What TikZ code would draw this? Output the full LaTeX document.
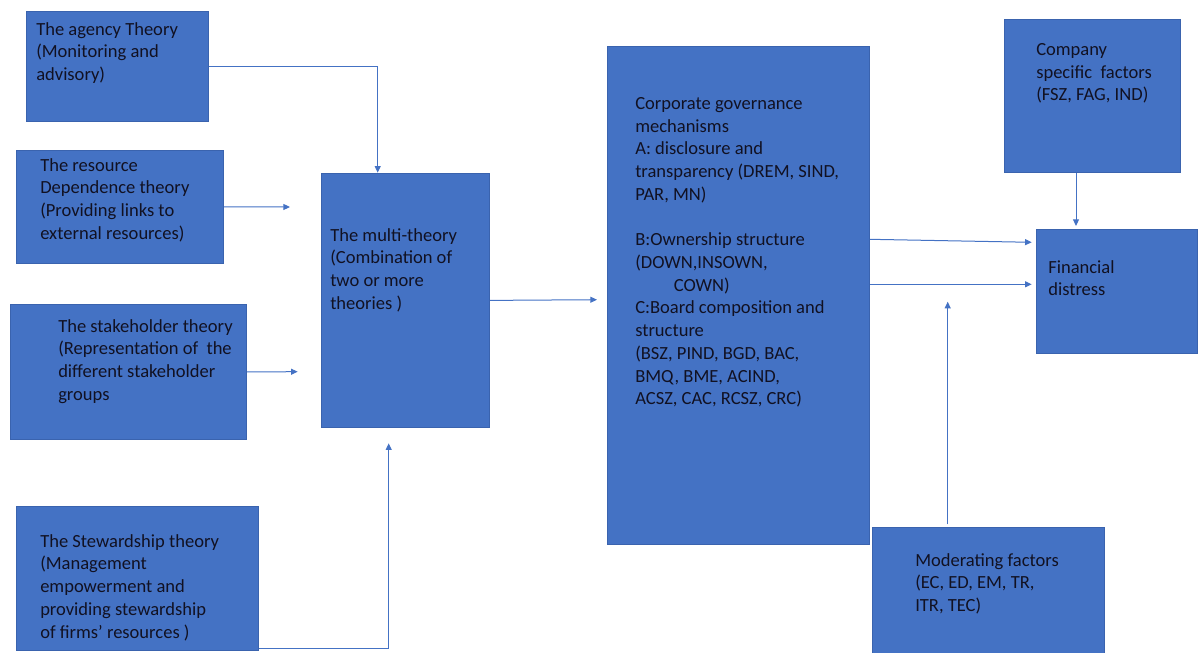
\documentclass[tikz,border=0pt]{standalone}
\usepackage{fontspec}
\setmainfont{Carlito}
\usetikzlibrary{arrows.meta}
\definecolor{boxblue}{HTML}{4472C4}
\definecolor{edgeblue}{HTML}{3A63AE}
\definecolor{lineblue}{HTML}{4472C4}
\definecolor{ink}{HTML}{111122}
\begin{document}
\begin{tikzpicture}[x=0.75pt,y=-0.75pt,
  box/.style 2 args={draw=edgeblue, fill=boxblue, line width=0.6pt, anchor=north west, inner sep=0pt,
    minimum width=#1*0.75pt, minimum height=#2*0.75pt},
  txt/.style={anchor=north west, inner sep=0pt, align=left, text=ink,
    font=\fontsize{13.9}{17.05}\selectfont},
  conn/.style={draw=lineblue, line width=0.75pt, -{Triangle[length=5pt,width=4.5pt]}}]
\clip (0,0) rectangle (1200,653);

% boxes
\node[box={182}{110}] (agency) at (26,11) {};
\node[box={207}{113}] (resource) at (16,150) {};
\node[box={236}{135}] (stake) at (10,304) {};
\node[box={242}{144}] (steward) at (16,506) {};
\node[box={168}{254}] (multi) at (321,173) {};
\node[box={262}{498}] (cg) at (607,46) {};
\node[box={176}{153}] (company) at (1004,19) {};
\node[box={161}{124}] (fin) at (1036,229) {};
\node[box={232}{140}] (mod) at (872,527) {};

% texts
\node[txt] (agencyT) at (36,22) {The agency Theory\\(Monitoring and\\advisory)};
\node[txt] (resourceT) at (40,158) {The resource\\Dependence theory\\(Providing links to\\external resources)};
\node[txt] (stakeT) at (58,319) {The stakeholder theory\\(Representation of\ \ the\\different stakeholder\\groups};
\node[txt] (stewardT) at (40,534) {The Stewardship theory\\(Management\\empowerment and\\providing stewardship\\of firms’ resources )};
\node[txt] (multiT) at (330,228) {The multi-theory\\(Combination of\\two or more\\theories )};
\node[txt] (cgT) at (635,97) {Corporate governance\\mechanisms\\A: disclosure and\\transparency (DREM, SIND,\\PAR, MN)\\[17.05pt]B:Ownership structure\\(DOWN,INSOWN,\\\hspace*{29pt}COWN)\\C:Board composition and\\structure\\(BSZ, PIND, BGD, BAC,\\BMQ, BME, ACIND,\\ACSZ, CAC, RCSZ, CRC)};
\node[txt] (companyT) at (1036,43) {Company\\specific\ \ factors\\(FSZ, FAG, IND)};
\node[txt] (finT) at (1048,260) {Financial\\distress};
\node[txt] (modT) at (915,553) {Moderating factors\\(EC, ED, EM, TR,\\ITR, TEC)};

% free connector ends
\coordinate (aEnd) at (377.7,172.7);
\coordinate (rEnd) at (290,207);
\coordinate (kEnd) at (297.7,371.7);
\coordinate (sEnd) at (388.7,443.3);
\coordinate (mEnd) at (597,299.7);
\coordinate (fA0) at (869.3,239.3);
\coordinate (fA) at (1031.7,242.3);
\coordinate (fB) at (1031.7,284.3);
\coordinate (cEnd) at (1076,226);
\coordinate (oStart) at (947.7,524.3);
\coordinate (oEnd) at (947.7,301.7);

% connectors
\draw[conn] (agency.east) -| (aEnd);
\draw[conn] (resource.east) -- (rEnd);
\draw[conn] (stake.east) -- (kEnd);
\draw[conn] ([yshift=1.7pt]steward.south east) -| (sEnd);
\draw[conn] (multi.east) -- (mEnd);
\draw[conn] (cg.east |- fA0) -- (fA);
\draw[conn] (cg.east |- fB) -- (fB);
\draw[conn] (company.south -| cEnd) -- (cEnd);
\draw[conn] (oStart) -- (oEnd);
\end{tikzpicture}
\end{document}
